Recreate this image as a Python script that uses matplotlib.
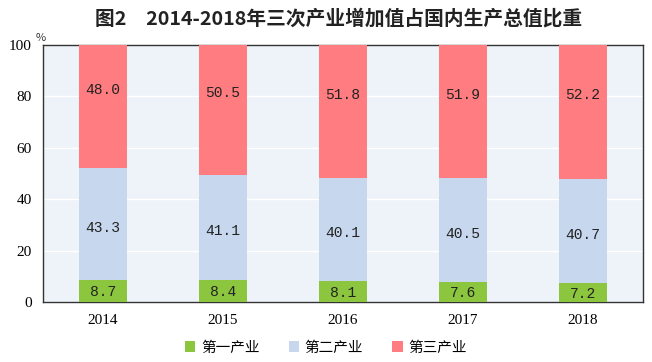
import numpy as np
import matplotlib.pyplot as plt

plt.rcParams['font.family'] = ['Noto Sans CJK SC', 'DejaVu Sans']

# data
years = ['2014', '2015', '2016', '2017', '2018']
primary = [8.7, 8.4, 8.1, 7.6, 7.2]
secondary = [43.3, 41.1, 40.1, 40.5, 40.7]
tertiary = [48.0, 50.5, 51.8, 51.9, 52.2]
series_names = ['第一产业', '第二产业', '第三产业']

colors = ['#8CC63E', '#C6D7EE', '#FF7C80']

fig = plt.figure(figsize=(6.52, 3.62), dpi=100)
ax = fig.add_axes([0.066, 0.166, 0.920, 0.710])
ax.set_facecolor('#EEF3F9')

x = np.arange(len(years))
w = 0.4
b1 = np.array(primary)
b2 = b1 + np.array(secondary)

ax.bar(x, primary, w, color=colors[0], label=series_names[0], zorder=3)
ax.bar(x, secondary, w, bottom=b1, color=colors[1], label=series_names[1], zorder=3)
ax.bar(x, tertiary, w, bottom=b2, color=colors[2], label=series_names[2], zorder=3)

lbl = dict(ha='center', va='center', fontsize=10.5, family='Liberation Mono',
           color='#222222', zorder=4)
for i in range(len(years)):
    ax.text(x[i], primary[i] / 2 - 0.5, f'{primary[i]:.1f}', **lbl)
    ax.text(x[i], b1[i] + secondary[i] / 2 - 1.5, f'{secondary[i]:.1f}', **lbl)
    ax.text(x[i], b2[i] + tertiary[i] / 2 + 6.5, f'{tertiary[i]:.1f}', **lbl)

ax.set_xlim(-0.5, len(years) - 0.5)
ax.set_ylim(0, 100)
ax.set_yticks(range(0, 101, 20))
ax.set_xticks(x)
ax.set_xticklabels(years, family='Liberation Serif', fontsize=11)
for t in ax.get_yticklabels():
    t.set_family('Liberation Serif')
    t.set_fontsize(11)
ax.tick_params(length=0, pad=8)
ax.tick_params(axis='x', pad=9)
ax.grid(axis='y', color='white', linewidth=1, zorder=1)
for s in ax.spines.values():
    s.set_color('#333333')
    s.set_linewidth(1)

fig.text(0.519, 0.948, '图2\u30002014-2018年三次产业增加值占国内生产总值比重',
         ha='center', va='center', fontsize=14.2, fontweight='bold', color='#222222')
fig.text(0.062, 0.895, '%', ha='center', va='center', fontsize=8, color='#333333')

fig.legend(loc='center', bbox_to_anchor=(0.5, 0.04), ncol=3, frameon=False,
           fontsize=10.5, handlelength=0.7, handleheight=0.7, handletextpad=0.4,
           columnspacing=2.0)

fig.savefig('out.png', dpi=100)
